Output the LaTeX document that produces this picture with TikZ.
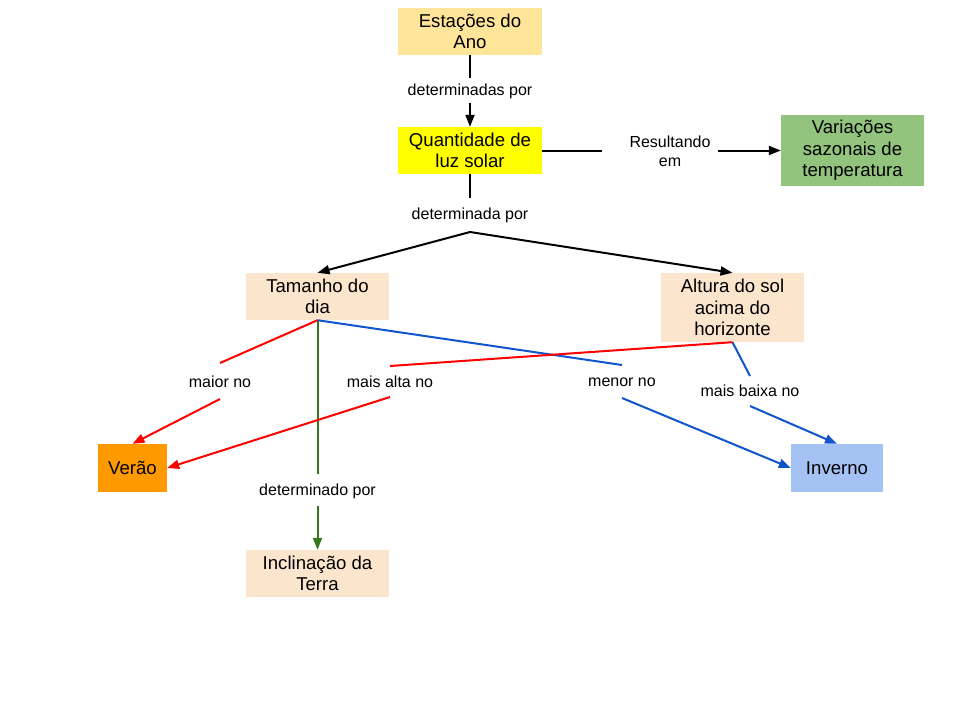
\documentclass[tikz,border=0pt]{standalone}
\usepackage{fontspec}
\setmainfont{Liberation Sans}
\usetikzlibrary{arrows.meta}
\definecolor{cEst}{HTML}{FFE599}
\definecolor{cQty}{HTML}{FFFF00}
\definecolor{cVar}{HTML}{93C47D}
\definecolor{cPeach}{HTML}{FCE5CD}
\definecolor{cVer}{HTML}{FF9900}
\definecolor{cInv}{HTML}{A4C2F4}
\definecolor{cRed}{HTML}{FF0000}
\definecolor{cBlue}{HTML}{1155CC}
\definecolor{cGreen}{HTML}{38761D}
\begin{document}
\begin{tikzpicture}[x=1pt,y=-1pt,
  box/.style={inner sep=0pt, align=center, font=\fontsize{18.6}{21.5}\selectfont, text=black},
  lbl/.style={inner sep=0pt, align=center, font=\fontsize{16}{19}\selectfont},
  conn/.style={line width=2pt},
  tip/.style={-{Triangle[length=12pt,width=9pt]}}]
\fill[white] (0,0) rectangle (960,720);
\useasboundingbox (0,0) rectangle (960,720);

% nodes
\node[box, fill=cEst, minimum width=144pt, minimum height=47pt] (est) at (470,31.5) {Estações do\\Ano};
\node[box, fill=cQty, minimum width=144pt, minimum height=47pt] (qty) at (470,150.5) {Quantidade de\\luz solar};
\node[box, fill=cVar, minimum width=143pt, minimum height=71pt] (var) at (852.5,150.5) {Variações\\sazonais de\\temperatura};
\node[box, fill=cPeach, minimum width=143pt, minimum height=47pt] (tam) at (317.5,296.5) {Tamanho do\\dia};
\node[box, fill=cPeach, minimum width=143pt, minimum height=69pt] (alt) at (732.5,307.5) {Altura do sol\\acima do\\horizonte};
\node[box, fill=cVer, minimum width=69pt, minimum height=48pt] (ver) at (132.5,468) {Verão};
\node[box, fill=cInv, minimum width=92pt, minimum height=48pt] (inv) at (837,468) {Inverno};
\node[box, fill=cPeach, minimum width=143pt, minimum height=47pt] (inc) at (317.5,573.5) {Inclinação da\\Terra};

% labels
\node[lbl] (l1) at (470,91) {determinadas por};
\node[lbl] (l2) at (670,151) {Resultando\\em};
\node[lbl] (l3) at (470,215) {determinada por};
\node[lbl] (l4) at (220,382) {maior no};
\node[lbl] (l5) at (390,382) {mais alta no};
\node[lbl] (l6) at (622,382) {menor no};
\node[lbl] (l7) at (750,391) {mais baixa no};
\node[lbl] (l8) at (317.5,491) {determinado por};

% break coordinates
\coordinate (a1) at (470,78);
\coordinate (a2) at (470,103);
\coordinate (b1) at (602,150.5);
\coordinate (b2) at (718,150.5);
\coordinate (c1) at (470,198);
\coordinate (br) at (470,232);
\coordinate (d1) at (220,363);
\coordinate (d2) at (220,399);
\coordinate (e1) at (390,366);
\coordinate (e2) at (390,397);
\coordinate (f1) at (622,365);
\coordinate (f2) at (622,398);
\coordinate (g1) at (750,376);
\coordinate (g2) at (750,406);
\coordinate (h1) at (317.5,474);
\coordinate (h2) at (317.5,506);

% black connectors
\draw[conn] (est.south) -- (a1);
\draw[conn, tip] (a2) -- (qty.north);
\draw[conn] (qty.east) -- (b1);
\draw[conn, tip] (b2) -- (var.west);
\draw[conn] (qty.south) -- (c1);
\draw[conn, tip] (br) -- (tam.north);
\draw[conn, tip] (br) -- (alt.north);

% green
\draw[conn, cGreen] (tam.south) -- (h1);
\draw[conn, cGreen, tip] (h2) -- (inc.north);

% blue
\draw[conn, cBlue] (tam.south) -- (f1);
\draw[conn, cBlue, tip] (f2) -- (inv.west);
\draw[conn, cBlue] (alt.south) -- (g1);
\draw[conn, cBlue, tip] (g2) -- (inv.north);

% red
\draw[conn, cRed] (tam.south) -- (d1);
\draw[conn, cRed, tip] (d2) -- (ver.north);
\draw[conn, cRed] (alt.south) -- (e1);
\draw[conn, cRed, tip] (e2) -- (ver.east);
\end{tikzpicture}
\end{document}
